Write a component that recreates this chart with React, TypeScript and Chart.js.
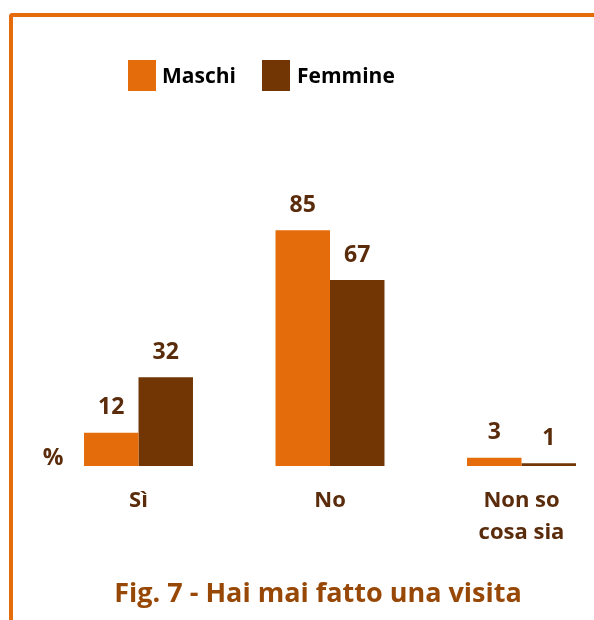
import React, { useEffect, useRef } from "react";
import { Chart, registerables } from "chart.js";

Chart.register(...registerables);

const categories: string[][] = [["Sì"], ["No"], ["Non so", "cosa sia"]];
const seriesNames = ["Maschi", "Femmine"];
const maschi = [12, 85, 3];
const femmine = [32, 67, 1];
const titleText = "Fig. 7 - Hai mai fatto una visita";
const unitLabel = "%";

const ORANGE = "#E46C0A";
const BROWN = "#713604";
const TEXT_BROWN = "#5A2C0C";
const TITLE_COLOR = "#974806";
const FONT = "'Open Sans', Lato, sans-serif";

const overlayPlugin = {
  id: "overlay",
  afterDatasetsDraw(chart: any) {
    const ctx = chart.ctx;
    ctx.save();
    ctx.font = `bold 23px ${FONT}`;
    ctx.fillStyle = TEXT_BROWN;
    ctx.textAlign = "center";
    ctx.textBaseline = "middle";
    chart.data.datasets.forEach((ds: any, di: number) => {
      const meta = chart.getDatasetMeta(di);
      meta.data.forEach((el: any, i: number) => {
        ctx.fillText(String(ds.data[i]), el.x, el.y - 25);
      });
    });
    ctx.restore();
  },
  afterDraw(chart: any) {
    const ctx = chart.ctx;
    ctx.save();
    const legendPos = [
      { bx: 128, tx: 162 },
      { bx: 262, tx: 297 },
    ];
    chart.data.datasets.forEach((ds: any, di: number) => {
      const p = legendPos[di];
      ctx.fillStyle = ds.backgroundColor;
      ctx.fillRect(p.bx, 60, 28, 31);
      ctx.fillStyle = "#000000";
      ctx.font = `bold 21px ${FONT}`;
      ctx.textAlign = "left";
      ctx.textBaseline = "middle";
      ctx.fillText(ds.label, p.tx, 77);
    });
    ctx.fillStyle = TEXT_BROWN;
    ctx.font = `bold 23px ${FONT}`;
    ctx.textAlign = "center";
    ctx.fillText(unitLabel, 53, 458);
    ctx.fillStyle = TITLE_COLOR;
    ctx.font = `bold 27px ${FONT}`;
    ctx.fillText(titleText, 318, 594);
    ctx.restore();
  },
};

export default function App() {
  const ref = useRef<HTMLCanvasElement | null>(null);
  useEffect(() => {
    if (!ref.current) return;
    const chart = new Chart(ref.current, {
      type: "bar",
      data: {
        labels: categories,
        datasets: [
          { label: seriesNames[0], data: maschi, backgroundColor: ORANGE, borderWidth: 0 },
          { label: seriesNames[1], data: femmine, backgroundColor: BROWN, borderWidth: 0 },
        ],
      },
      options: {
        animation: false,
        responsive: false,
        maintainAspectRatio: false,
        layout: { padding: { left: 138.5, right: 72.5, top: 188.5, bottom: 52 } },
        datasets: { bar: { categoryPercentage: 0.569, barPercentage: 1, clip: false as any } },
        plugins: {
          legend: { display: false },
          title: { display: false },
          tooltip: { enabled: false },
        },
        scales: {
          x: {
            offset: false,
            grid: { display: false, drawTicks: false },
            border: { display: false },
            ticks: {
              padding: 19,
              color: TEXT_BROWN,
              font: { family: FONT, size: 22, weight: "bold", lineHeight: 32 / 22 },
              maxRotation: 0,
              autoSkip: false,
            },
          },
          y: {
            display: false,
            min: 0,
            max: 100,
          },
        },
      },
      plugins: [overlayPlugin],
    });
    return () => chart.destroy();
  }, []);
  return (
    <div style={{ position: "absolute", left: 0, top: 0, width: 594, height: 620, overflow: "hidden", background: "#ffffff" }}>
      <div
        style={{
          position: "absolute",
          left: 9,
          top: 13,
          width: 620,
          height: 640,
          borderTop: `4px solid ${ORANGE}`,
          borderLeft: `4px solid ${ORANGE}`,
          borderTopLeftRadius: 4,
          boxSizing: "border-box",
        }}
      />
      <canvas ref={ref} width={594} height={620} style={{ position: "absolute", left: 0, top: 0, width: 594, height: 620 }} />
    </div>
  );
}
